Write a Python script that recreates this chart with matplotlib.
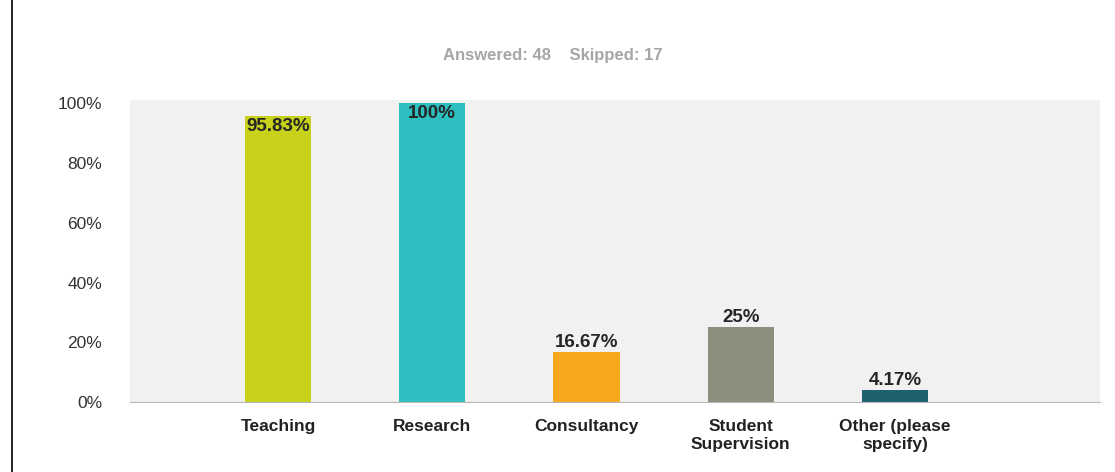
import matplotlib
matplotlib.use("Agg")
import matplotlib.pyplot as plt
from matplotlib.lines import Line2D

plt.rcParams["font.family"] = ["Liberation Sans", "DejaVu Sans"]

# 資料
categories = ["Teaching", "Research", "Consultancy", "Student\nSupervision",
              "Other (please\nspecify)"]
values = [95.83, 100, 16.67, 25, 4.17]
value_labels = ["95.83%", "100%", "16.67%", "25%", "4.17%"]
colors = ["#c9d21b", "#2ec0c0", "#f5a81c", "#8e8e7e", "#21606f"]
yticks = [0, 20, 40, 60, 80, 100]

fig = plt.figure(figsize=(11.15, 4.72), dpi=100)
ax = fig.add_axes([0.1166, 0.148, 0.870, 0.640])
ax.set_facecolor("#f1f1f1")

x = list(range(len(categories)))
ax.bar(x, values, width=0.43, color=colors, zorder=2)

for xi, v, lab in zip(x, values, value_labels):
    y = v - 6.5 if v > 90 else v + 0.3
    ax.text(xi, y, lab, ha="center", va="bottom", fontsize=13.5,
            fontweight="bold", color="#262626", zorder=3)

ax.set_xlim(-0.96, 5.33)
ax.set_ylim(0, 101)
ax.set_xticks(x)
ax.set_xticklabels(categories, fontsize=12.5, color="#222222",
                   fontweight="bold", linespacing=1.3)
ax.set_yticks(yticks)
ax.set_yticklabels([f"{t}%" for t in yticks], fontsize=12.5, color="#333333")
ax.tick_params(axis="both", length=0)
ax.tick_params(axis="x", pad=12)
ax.tick_params(axis="y", pad=20)

for s in ("top", "right", "left"):
    ax.spines[s].set_visible(False)
ax.spines["bottom"].set_color("#b8b8b8")

fig.text(0.496, 0.883, "Answered: 48    Skipped: 17", ha="center",
         va="center", fontsize=12, color="#a6a6a6", fontweight="bold")

# 左邊框線
fig.add_artist(Line2D([0.011, 0.011], [0, 1], transform=fig.transFigure,
                      color="black", lw=1.2))

fig.savefig("out.png", dpi=100)
